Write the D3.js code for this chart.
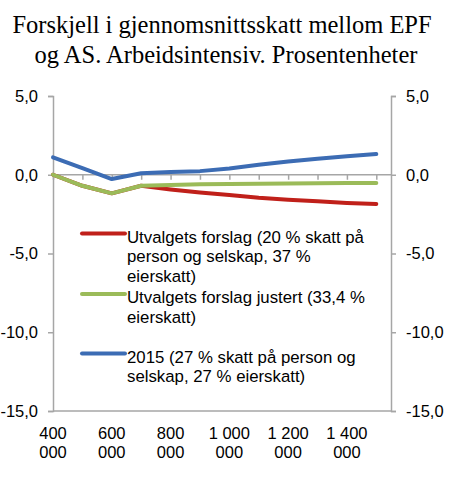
<!DOCTYPE html>
<html lang="no">

<head>
    <meta charset="UTF-8">
    <title>Forskjell i gjennomsnittsskatt</title>
    <style>
        body { margin: 0; background: #fff; }
    </style>
</head>

<body>
    <script src="https://cdn.jsdelivr.net/npm/d3@7"></script>
    <script>
        // data
        const incomes = [400000, 500000, 600000, 700000, 800000, 900000, 1000000,
            1100000, 1200000, 1300000, 1400000, 1500000];
        const utvalget = [0, -0.7, -1.18, -0.7, -0.93, -1.12, -1.29, -1.46, -1.58, -1.69, -1.79, -1.86];
        const justert = [0, -0.7, -1.18, -0.7, -0.65, -0.61, -0.59, -0.57, -0.55, -0.54, -0.53, -0.53];
        const y2015 = [1.1, 0.42, -0.27, 0.1, 0.17, 0.23, 0.4, 0.63, 0.84, 1.01, 1.18, 1.31];
        const yTicks = [5, 0, -5, -10, -15];
        const xLabels = [400000, 600000, 800000, 1000000, 1200000, 1400000];

        const series = [
            { lines: ["Utvalgets forslag (20 % skatt på", "person og selskap, 37 %", "eierskatt)"], values: utvalget, color: "#c0201a" },
            { lines: ["Utvalgets forslag justert (33,4 %", "eierskatt)"], values: justert, color: "#9bbb59" },
            { lines: ["2015 (27 % skatt på person og", "selskap, 27 % eierskatt)"], values: y2015, color: "#3c6cb4" }
        ];

        const W = 450, H = 478;
        const plotL = 53, plotR = 391, plotT = 96, plotB = 411;
        const axisColor = "#a6a6a6";
        const sans = "Liberation Sans, Arial, sans-serif";

        const svg = d3.select("body").append("svg")
            .attr("width", W)
            .attr("height", H);

        const x = d3.scaleLinear().domain([400000, 1550000]).range([plotL, plotR]);
        const y = d3.scaleLinear().domain([-15, 5]).range([plotB, plotT]);

        // title
        const title = svg.append("text")
            .attr("text-anchor", "middle")
            .attr("font-family", "Liberation Serif, Times New Roman, serif")
            .attr("font-size", 24.5)
            .attr("fill", "#000");
        title.append("tspan").attr("x", 222).attr("y", 33).text("Forskjell i gjennomsnittsskatt mellom EPF");
        title.append("tspan").attr("x", 226).attr("y", 63).text("og AS. Arbeidsintensiv. Prosentenheter");

        const fmt = d => d3.format(".1f")(d).replace(".", ",").replace("−", "-");

        // left and right axes
        const yl = svg.append("g").attr("transform", `translate(${plotL},0)`)
            .call(d3.axisLeft(y).tickValues(yTicks).tickSize(5).tickPadding(10).tickFormat(fmt));
        const yr = svg.append("g").attr("transform", `translate(${plotR},0)`)
            .call(d3.axisRight(y).tickValues(yTicks).tickSize(5).tickPadding(10).tickFormat(fmt));
        [yl, yr].forEach(g => {
            g.select(".domain").attr("stroke", axisColor).attr("stroke-width", 1.5);
            g.selectAll(".tick line").attr("stroke", axisColor).attr("stroke-width", 1.5);
            g.selectAll(".tick text").attr("font-family", sans).attr("font-size", 16.5).attr("fill", "#000");
        });

        // bottom line at -15
        svg.append("line")
            .attr("x1", plotL).attr("x2", plotR)
            .attr("y1", plotB).attr("y2", plotB)
            .attr("stroke", axisColor).attr("stroke-width", 1.5);

        // x axis at zero with ticks
        const xa = svg.append("g").attr("transform", `translate(0,${y(0)})`)
            .call(d3.axisBottom(x).tickValues(incomes).tickSize(5).tickFormat(""));
        xa.select(".domain").attr("stroke", axisColor).attr("stroke-width", 1.5)
            .attr("d", `M${plotL},0H${plotR}`);
        xa.selectAll(".tick line").attr("stroke", axisColor).attr("stroke-width", 1.5);

        // category labels below the chart
        const lab = svg.append("g")
            .attr("font-family", sans)
            .attr("font-size", 16.5)
            .attr("text-anchor", "middle")
            .attr("fill", "#000");
        xLabels.forEach(v => {
            const s = d3.format(",")(v).replace(/,/g, " ");
            const first = s.slice(0, s.length - 4);
            const t = lab.append("text").attr("x", x(v));
            t.append("tspan").attr("x", x(v)).attr("y", 439).text(first);
            t.append("tspan").attr("x", x(v)).attr("y", 458).text("000");
        });

        // lines
        const line = d3.line()
            .x((d, i) => x(incomes[i]))
            .y(d => y(d));
        series.forEach(s => {
            svg.append("path")
                .datum(s.values)
                .attr("d", line)
                .attr("fill", "none")
                .attr("stroke", s.color)
                .attr("stroke-width", 4)
                .attr("stroke-linejoin", "round")
                .attr("stroke-linecap", "round");
        });

        // legend
        const legendY = [233.5, 294, 353.5];
        const lg = svg.append("g");
        series.forEach((s, k) => {
            lg.append("line")
                .attr("x1", 82).attr("x2", 125)
                .attr("y1", legendY[k]).attr("y2", legendY[k])
                .attr("stroke", s.color).attr("stroke-width", 4)
                .attr("stroke-linecap", "round");
            const t = lg.append("text")
                .attr("font-family", sans)
                .attr("font-size", 16.8)
                .attr("fill", "#000");
            s.lines.forEach((l, j) => {
                t.append("tspan").attr("x", 127).attr("y", legendY[k] + 9 + j * 19.8).text(l);
            });
        });
    </script>
</body>

</html>
